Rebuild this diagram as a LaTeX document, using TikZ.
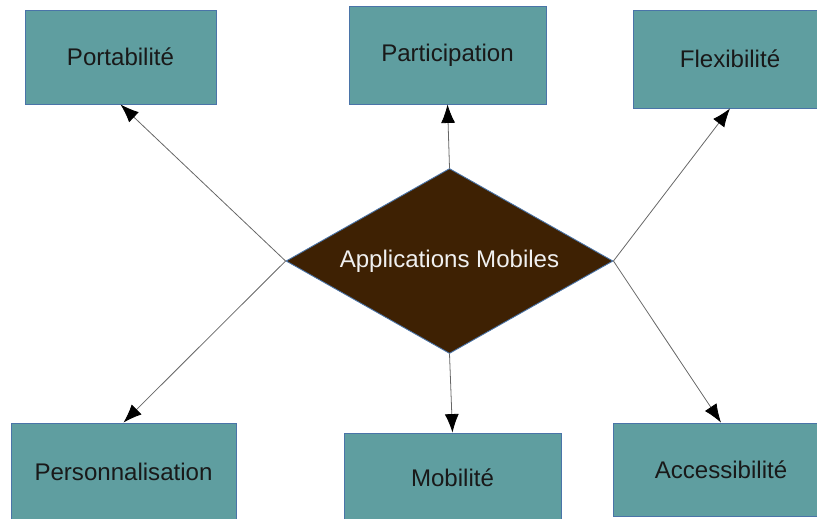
\documentclass[tikz,border=0pt]{standalone}
\usepackage{fontspec}
\setmainfont{Liberation Sans}
\usetikzlibrary{shapes.geometric,arrows.meta}
\definecolor{boxfill}{HTML}{5F9EA0}
\definecolor{boxline}{HTML}{4A74A8}
\definecolor{losange}{HTML}{3E2103}
\tikzset{
  boite/.style={draw=boxline,line width=0.5pt,fill=boxfill,inner sep=0pt,
    text=black!90,font=\fontsize{13.7}{16}\selectfont},
  fleche/.style={draw=black!60,line width=0.45pt,-{Latex[black,length=0.37cm,width=0.28cm]}}
}
\begin{document}
\begin{tikzpicture}[x=0.02cm,y=-0.02cm]
	\useasboundingbox (0,0) rectangle (817,518);
	\node[diamond,aspect=1.77,draw=boxline,line width=0.5pt,fill=losange,inner sep=0pt,
		minimum width=327*0.02cm,minimum height=185*0.02cm,text=white!94!black,
		font=\fontsize{13.7}{16}\selectfont] (app) at (449.5,261) {Applications Mobiles};
	\node[boite,minimum width=191*0.02cm,minimum height=94*0.02cm] (port) at (120.5,57) {Portabilité};
	\node[boite,minimum width=197*0.02cm,minimum height=98*0.02cm] (part) at (447.5,55) {Participation};
	\node[boite,minimum width=194*0.02cm,minimum height=98*0.02cm] (flex) at (730,59) {Flexibilité};
	\node[boite,minimum width=225*0.02cm,minimum height=98*0.02cm] (pers) at (123.5,472) {Personnalisation};
	\node[boite,minimum width=217*0.02cm,minimum height=90*0.02cm] (mob) at (452.5,478) {Mobilité};
	\node[boite,minimum width=216*0.02cm,minimum height=93*0.02cm] (acc) at (721,469.5) {Accessibilité};
	\draw[fleche] (app.west)--(port.south);
	\draw[fleche] (app.west)--(pers.north);
	\draw[fleche] (app.north)--(part.south);
	\draw[fleche] (app.south)--(mob.north);
	\draw[fleche] (app.east)--(flex.south);
	\draw[fleche] (app.east)--(acc.north);
\end{tikzpicture}
\end{document}
